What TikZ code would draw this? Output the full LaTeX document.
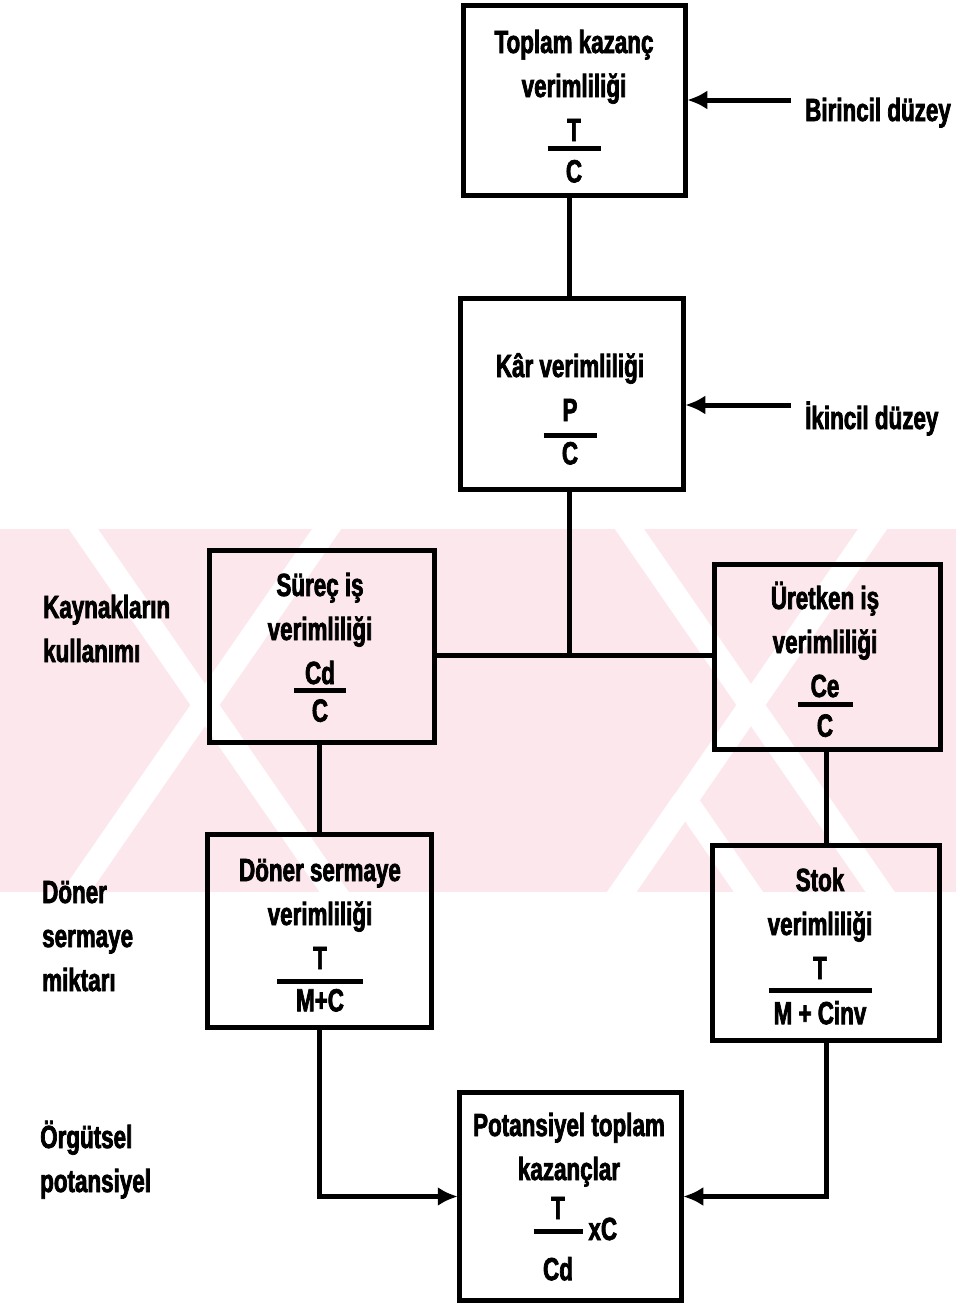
\documentclass[tikz,border=0pt]{standalone}
\usepackage{fontspec}
\setmainfont{Liberation Sans}[FakeStretch=0.70, FakeBold=2.2]
\usetikzlibrary{arrows.meta}
\definecolor{wm}{RGB}{252,232,236}

% numerator over a thick bar over denominator; baseline is the numerator's
\newcommand{\frc}[5]{\vtop{\hbox to #3pt{\hss#1\hss}\kern#4pt\hrule height 5pt\kern#5pt\hbox to #3pt{\hss#2\hss}}}
% centred and left-aligned stacks of lines; baseline is the first line's
\newcommand{\cstack}[1]{\vtop{\baselineskip=44pt\halign{\hfil##\hfil\cr#1\crcr}}}
\newcommand{\lstack}[1]{\vtop{\baselineskip=44pt\halign{##\hfil\cr#1\crcr}}}

\begin{document}
\begin{tikzpicture}[x=1pt,y=-1pt,
  font=\fontsize{32}{44}\selectfont\bfseries,
  box/.style={draw, line width=5.5pt, inner sep=0pt},
  txt/.style={anchor=base, inner sep=0pt},
  side/.style={anchor=base west, inner sep=0pt},
  conn/.style={line width=5pt},
  arr/.style={line width=5pt, -{Latex[length=20pt,width=19pt]}, shorten >=-1pt}]
\useasboundingbox (0,0) rectangle (956,1307);
\fill[white] (0,0) rectangle (956,1307);

% pale background band with diagonal white stripes
\begin{scope}
  \clip (0,529) rectangle (956,892);
  \fill[wm] (0,529) rectangle (956,892);
  \foreach \cx in {205,751}{
    \draw[white, line width=24pt] (\cx-190,430) -- (\cx+190,980);
    \draw[white, line width=24pt] (\cx+190,430) -- (\cx-190,980);
  }
  \draw[white, line width=24pt] (685,800) -- (585,945);
  \draw[white, line width=24pt] (685,800) -- (785,945);
\end{scope}

% boxes
\node[box, minimum width=222pt, minimum height=190pt] (b1) at (574.5,100.5) {};
\node[box, minimum width=223pt, minimum height=191pt] (b2) at (572,394) {};
\node[box, minimum width=225pt, minimum height=192pt] (b3) at (322,646.5) {};
\node[box, minimum width=226pt, minimum height=185pt] (b4) at (827.5,657) {};
\node[box, minimum width=224pt, minimum height=193pt] (b5) at (319.5,931) {};
\node[box, minimum width=227pt, minimum height=195pt] (b6) at (826,943) {};
\node[box, minimum width=222pt, minimum height=208pt] (b7) at (570.5,1196.5) {};

% box texts
\node[txt] (t1) at (574,53) {\cstack{Toplam kazanç\cr verimliliği\cr\frc{T}{C}{53}{5}{9}}};
\node[txt] (t2) at (570,377) {\cstack{Kâr verimliliği\cr\frc{P}{C}{53}{12}{4}}};
\node[txt] (t3) at (320,596) {\cstack{Süreç iş\cr verimliliği\cr\frc{Cd}{C}{52}{4}{6}}};
\node[txt] (t4) at (825,609) {\cstack{Üretken iş\cr verimliliği\cr\frc{Ce}{C}{55}{5}{7}}};
\node[txt] (t5) at (320,881) {\cstack{Döner sermaye\cr verimliliği\cr\frc{T}{M+C}{86}{10}{5}}};
\node[txt] (t6) at (820,891) {\cstack{Stok\cr verimliliği\cr\frc{T}{M + Cinv}{103}{9}{8}}};
\node[txt] (t7) at (569,1136) {\cstack{Potansiyel toplam\cr kazançlar\cr\noalign{\vskip-5pt}
  \hspace*{-22pt}\frc{T}{Cd}{49}{10}{23}\rlap{\hspace{6pt}\raisebox{-21pt}{xC}}}};

% level labels
\node[side] (k1) at (43,618) {\lstack{Kaynakların\cr kullanımı}};
\node[side] (k2) at (42,903) {\lstack{Döner\cr sermaye\cr miktarı}};
\node[side] (k3) at (40,1148) {\lstack{Örgütsel\cr potansiyel}};
\node[side] (l1) at (805,121) {Birincil düzey};
\node[side] (l2) at (805,429) {İkincil düzey};

% connectors
\coordinate (jn) at (569,655);
\coordinate (a1) at (791,100);
\coordinate (a2) at (791,405);
\draw[arr] (a1) -- (a1 -| b1.east);
\draw[arr] (a2) -- (a2 -| b2.east);
\draw[conn] (b1.south -| jn) -- (b2.north -| jn);
\draw[conn] (b2.south -| jn) -- (jn);
\draw[conn] (b3.east |- jn) -- (b4.west |- jn);
\draw[conn] (b3.south -| b5.north) -- (b5.north);
\draw[conn] (b4.south -| b6.north) -- (b6.north);
\draw[arr] (b5.south) |- (b7.west);
\draw[arr] (b6.south) |- (b7.east);
\end{tikzpicture}
\end{document}
